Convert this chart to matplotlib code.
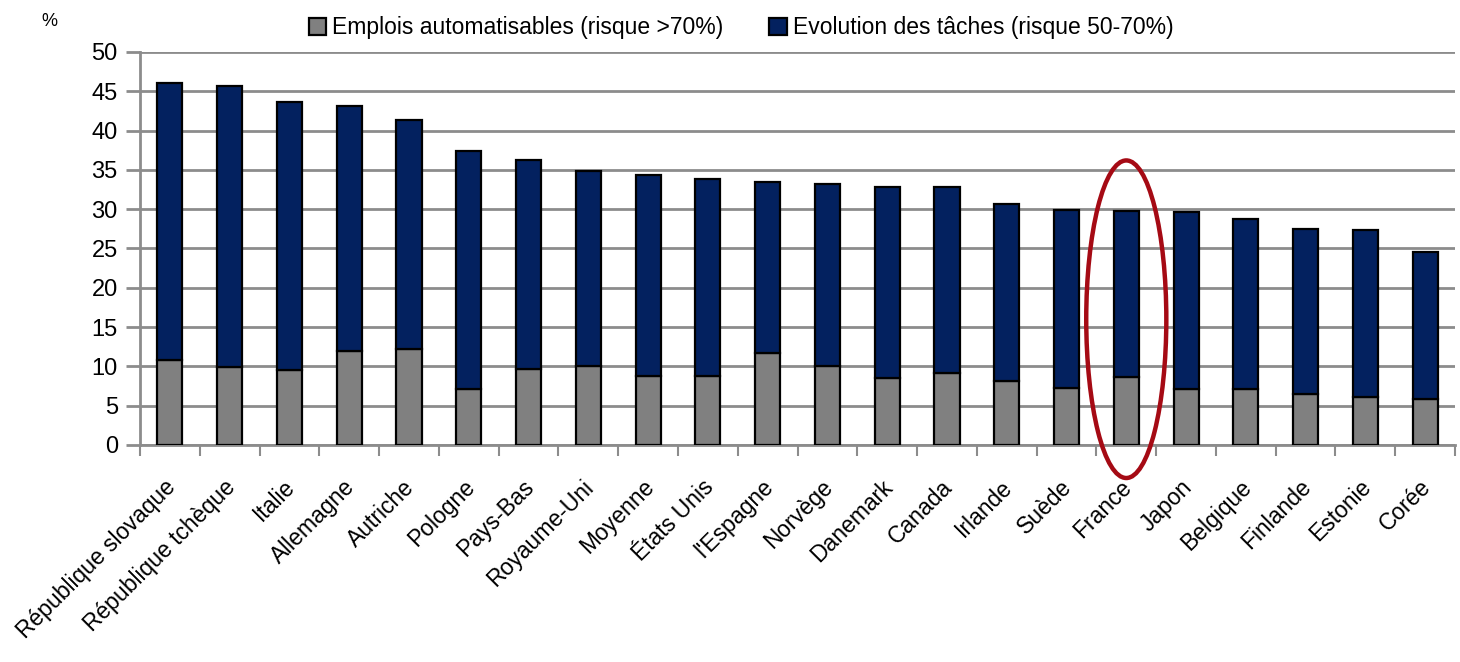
import matplotlib
matplotlib.use("Agg")
import matplotlib.pyplot as plt
from matplotlib.patches import Ellipse
import matplotlib.transforms as mtransforms
import numpy as np

plt.rcParams['font.family'] = ['Liberation Sans', 'DejaVu Sans']

pays = ["République slovaque", "République tchèque", "Italie", "Allemagne", "Autriche",
        "Pologne", "Pays-Bas", "Royaume-Uni", "Moyenne", "États Unis", "l'Espagne",
        "Norvège", "Danemark", "Canada", "Irlande", "Suède", "France", "Japon",
        "Belgique", "Finlande", "Estonie", "Corée"]
# risque > 70%
automatisables = [10.8, 9.9, 9.5, 12.0, 12.2, 7.1, 9.7, 10.0, 8.8, 8.8, 11.7,
                  10.0, 8.5, 9.1, 8.2, 7.2, 8.6, 7.1, 7.1, 6.5, 6.1, 5.8]
# total (risque > 50%)
total = [46.1, 45.7, 43.6, 43.1, 41.4, 37.4, 36.3, 34.9, 34.4, 33.8, 33.5,
         33.2, 32.8, 32.8, 30.7, 29.9, 29.8, 29.6, 28.8, 27.5, 27.4, 24.5]
evolution = [t - a for t, a in zip(total, automatisables)]

fig = plt.figure(figsize=(14.6, 6.62), dpi=100)
ax = fig.add_axes([0.0959, 0.3278, 0.9007, 0.5937])

x = np.arange(len(pays))
ax.bar(x, automatisables, width=0.42, color="#808080", edgecolor="black", lw=1.6,
       label="Emplois automatisables (risque >70%)", zorder=3)
ax.bar(x, evolution, bottom=automatisables, width=0.42, color="#03215F",
       edgecolor="black", lw=1.6, label="Evolution des tâches (risque 50-70%)", zorder=3)

ax.set_xlim(-0.5, len(pays) - 0.5)
ax.set_ylim(0, 50)
ax.set_yticks(range(0, 51, 5))
ax.yaxis.grid(True, color="#8c8c8c", lw=2)
ax.set_axisbelow(True)
for s in ["top", "right"]:
    ax.spines[s].set_visible(False)
for s in ["left", "bottom"]:
    ax.spines[s].set_color("#8c8c8c")
    ax.spines[s].set_linewidth(2)

# category ticks sit between bars
ax.set_xticks(np.arange(-0.5, len(pays) - 0.4, 1))
ax.set_xticklabels([])
ax.tick_params(axis="x", length=8, width=1.5, color="#8c8c8c", direction="out")
ax.set_xticks(x, minor=True)
ax.set_xticklabels(pays, minor=True, rotation=45, ha="right", rotation_mode="anchor",
                   fontsize=16.5)
ax.tick_params(axis="x", which="minor", length=0, pad=22)
shift = mtransforms.ScaledTranslation(-0.06, 0, fig.dpi_scale_trans)
for lab in ax.get_xticklabels(minor=True):
    lab.set_transform(lab.get_transform() + shift)
ax.tick_params(axis="y", length=10, width=2, color="#8c8c8c", labelsize=17, pad=6)

fig.text(0.028, 0.968, "%", fontsize=13, ha="left", va="center")

ax.legend(loc="center", bbox_to_anchor=(0.457, 1.062), ncol=2, frameon=False,
          fontsize=16.5, handlelength=0.78, handleheight=0.78, columnspacing=2.0,
          handletextpad=0.25, borderpad=0)

# highlight France
i_fr = pays.index("France")
ax.add_patch(Ellipse((i_fr, 16), 1.34, 40.4, fill=False, edgecolor="#A50A14", lw=3.2,
                     clip_on=False, zorder=5))

fig.savefig("out.png", dpi=100)
